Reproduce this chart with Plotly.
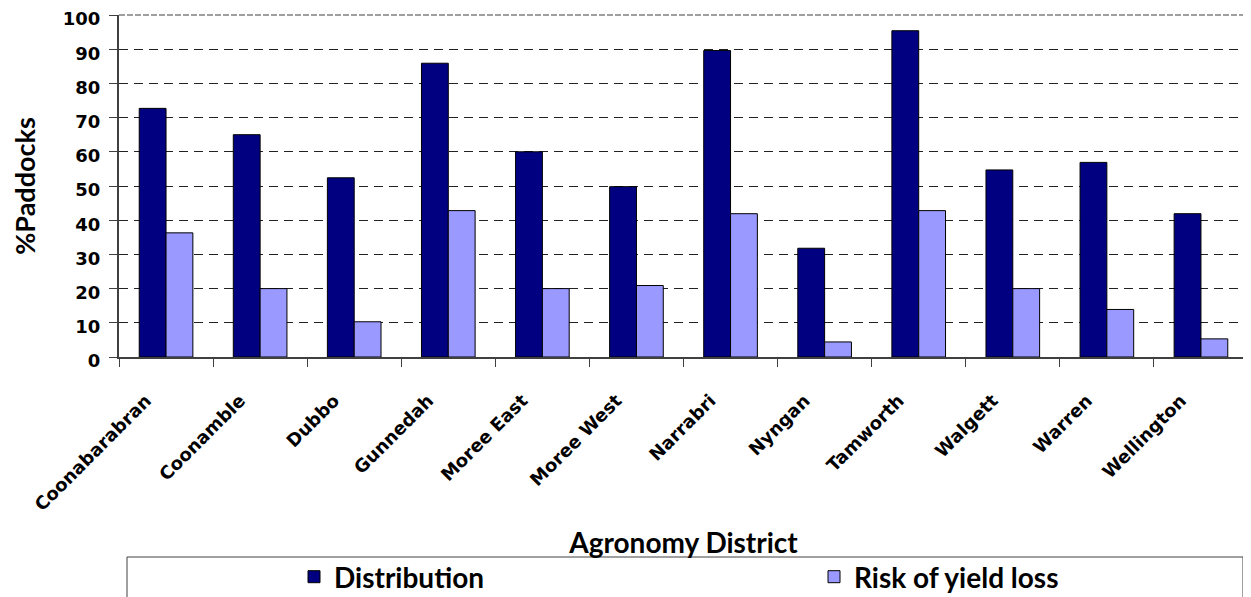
import plotly.graph_objects as go

districts = ["Coonabarabran", "Coonamble", "Dubbo", "Gunnedah", "Moree East", "Moree West",
             "Narrabri", "Nyngan", "Tamworth", "Walgett", "Warren", "Wellington"]
distribution = [72.7, 65, 52.4, 85.9, 60, 49.8, 89.6, 31.8, 95.4, 54.7, 56.9, 41.9]
risk_of_yield_loss = [36.3, 20, 10.3, 42.8, 20, 20.9, 41.9, 4.4, 42.8, 20, 13.9, 5.3]
y_ticks = [0, 10, 20, 30, 40, 50, 60, 70, 80, 90, 100]

TICK_FONT = "DejaVu Sans"
TITLE_FONT = "Lato"

# The page body has an 8px margin, so the figure is sized to fit the viewport.
W, H = 1243, 589
L, R, T, B = 111, 3, 7, 240
PW = W - L - R
PH = H - T - B


def px_x(p):
    return (p - L) / PW


def px_y(p):
    return (H - B - p) / PH


fig = go.Figure()
fig.add_trace(go.Bar(
    x=districts, y=distribution, name="Distribution",
    marker=dict(color="#000080", line=dict(color="#000000", width=1)),
))
fig.add_trace(go.Bar(
    x=districts, y=risk_of_yield_loss, name="Risk of yield loss",
    marker=dict(color="#9999FF", line=dict(color="#000000", width=1)),
))

fig.update_layout(
    width=W, height=H,
    margin=dict(l=L, r=R, t=T, b=B, autoexpand=False),
    paper_bgcolor="white", plot_bgcolor="white",
    barmode="group", bargap=0.43, bargroupgap=0,
    showlegend=True,
    legend=dict(
        orientation="h", x=px_x(286), xanchor="left", y=px_y(569), yanchor="middle",
        font=dict(family=TITLE_FONT, size=28, color="#000000", weight="bold"),
        entrywidth=475, entrywidthmode="pixels",
        bgcolor="rgba(0,0,0,0)", borderwidth=0,
    ),
    xaxis=dict(
        type="category", tickson="boundaries", ticks="outside", ticklen=8,
        tickcolor="#404040", tickwidth=1,
        showline=True, linecolor="#404040", linewidth=2,
        tickangle=-45, ticklabelstandoff=24, ticklabelshift=-20,
        tickfont=dict(family=TICK_FONT, size=18, color="#000000", weight="bold"),
        showgrid=False,
        title=dict(text="Agronomy District", standoff=20,
                   font=dict(family=TITLE_FONT, size=28, color="#000000", weight="bold")),
        automargin=False,
    ),
    yaxis=dict(
        range=[0, 100], tickvals=y_ticks, ticks="outside", ticklen=8,
        tickcolor="#404040", tickwidth=1, ticklabelstandoff=5, ticklabelshift=4,
        ticklabeloverflow="allow",
        showline=True, linecolor="#404040", linewidth=2,
        tickfont=dict(family=TICK_FONT, size=18, color="#000000", weight="bold"),
        showgrid=True, gridcolor="#222222", gridwidth=1, griddash="9px,6px",
        zeroline=False,
        title=dict(text="%Paddocks", standoff=42,
                   font=dict(family=TITLE_FONT, size=27, color="#000000", weight="bold")),
        automargin=False,
    ),
    shapes=[
        dict(type="line", xref="paper", yref="paper", x0=1, x1=1, y0=0, y1=1,
             line=dict(color="#999999", width=1)),
        dict(type="line", xref="paper", yref="paper", x0=0, x1=1, y0=1, y1=1,
             line=dict(color="#808080", width=1.5, dash="6px,2px")),
        dict(type="rect", xref="paper", yref="paper",
             x0=px_x(119), x1=px_x(1235),
             y0=px_y(549), y1=px_y(600),
             line=dict(color="#404040", width=1), fillcolor="rgba(0,0,0,0)"),
    ],
)

fig.write_html("out.html")
